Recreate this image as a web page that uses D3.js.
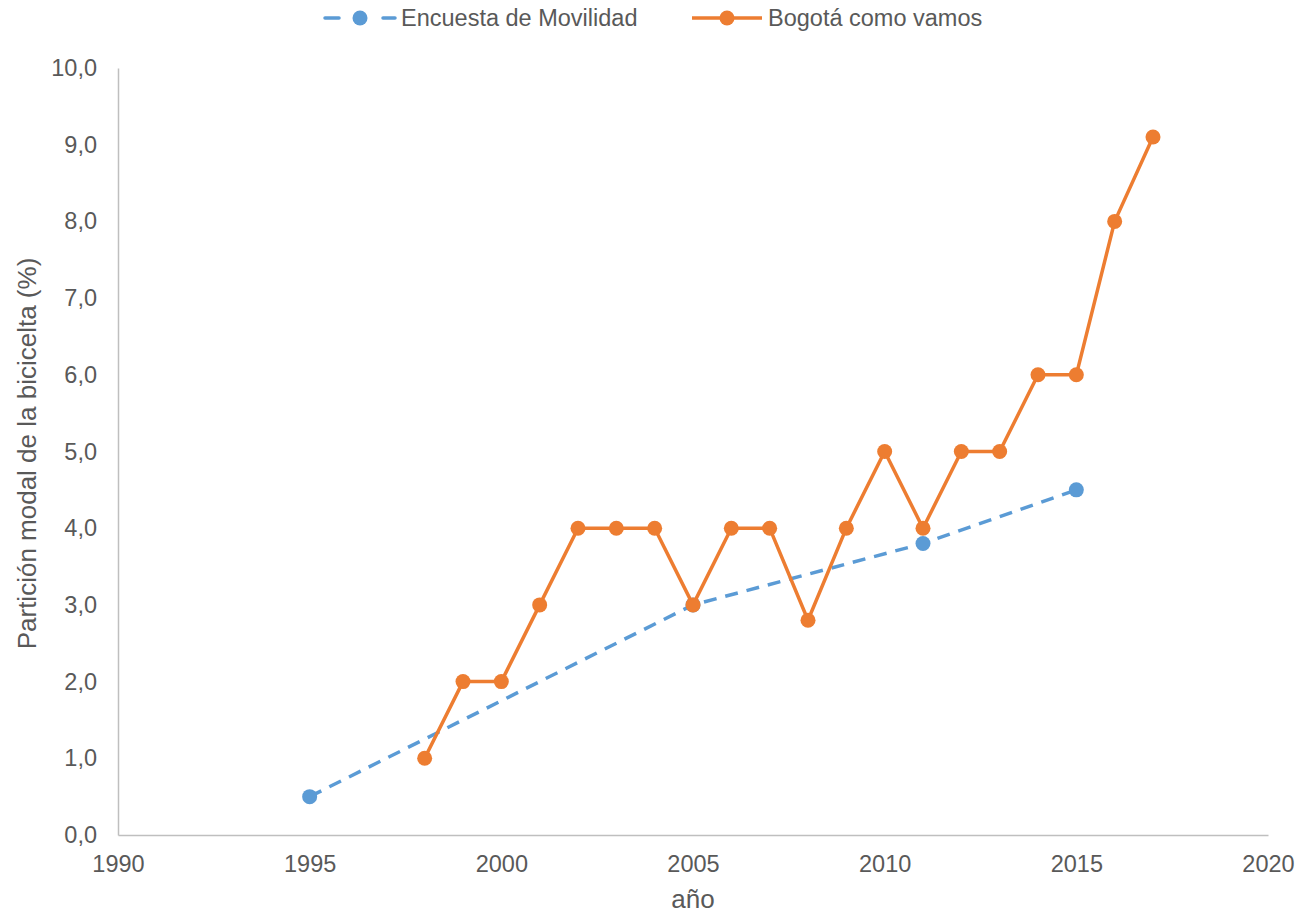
<!DOCTYPE html>
<html>
<head>
<meta charset="utf-8">
<script src="https://cdn.jsdelivr.net/npm/d3@7"></script>
<style>
  body { margin: 0; background: #fff; }
  text { font-family: "Liberation Sans", Arial, sans-serif; fill: #595959; }
</style>
</head>
<body>
<div id="chart"></div>
<script>
// series data
var encuestaYears = [1995, 2005, 2011, 2015];
var encuestaValues = [0.5, 3.0, 3.8, 4.5];

var bcvYears = [1998, 1999, 2000, 2001, 2002, 2003, 2004, 2005, 2006, 2007,
  2008, 2009, 2010, 2011, 2012, 2013, 2014, 2015, 2016, 2017];
var bcvValues = [1.0, 2.0, 2.0, 3.0, 4.0, 4.0, 4.0, 3.0, 4.0, 4.0,
  2.8, 4.0, 5.0, 4.0, 5.0, 5.0, 6.0, 6.0, 8.0, 9.1];

var xTicks = [1990, 1995, 2000, 2005, 2010, 2015, 2020];
var yTicks = [0, 1, 2, 3, 4, 5, 6, 7, 8, 9, 10];

var blue = "#5b9bd5", orange = "#ed7d31";

var margin = { top: 68, right: 28, bottom: 80, left: 118 };
var width = 1296 - margin.left - margin.right,
  height = 915 - margin.top - margin.bottom;

var svg = d3.select("#chart").append("svg")
  .attr("width", 1296)
  .attr("height", 915);

var g = svg.append("g")
  .attr("transform", "translate(" + margin.left + "," + margin.top + ")");

var x = d3.scaleLinear().domain([1990, 2020]).range([0, width]);
var y = d3.scaleLinear().domain([0, 10]).range([height, 0]);

var fmt = function(d) { return d3.format(".1f")(d).replace(".", ","); };

// axes
var xAxis = g.append("g")
  .attr("transform", "translate(0," + height + ")")
  .call(d3.axisBottom(x).tickValues(xTicks).tickFormat(d3.format("d")).tickSize(0).tickPadding(20));
var yAxis = g.append("g")
  .call(d3.axisLeft(y).tickValues(yTicks).tickFormat(fmt).tickSize(0).tickPadding(21));

[xAxis, yAxis].forEach(function(a) {
  a.select(".domain").attr("stroke", "#bfbfbf").attr("stroke-width", 1.5);
  a.selectAll("text").style("font-size", "23.5px").attr("fill", "#595959");
});

// axis titles
svg.append("text")
  .attr("x", margin.left + width / 2)
  .attr("y", 908)
  .attr("text-anchor", "middle")
  .style("font-size", "26px")
  .text("año");

svg.append("text")
  .attr("transform", "translate(36," + (margin.top + height / 2 + 2) + ") rotate(-90)")
  .attr("text-anchor", "middle")
  .style("font-size", "26px")
  .text("Partición modal de la bicicelta (%)");

var line = d3.line()
  .x(function(d) { return x(d[0]); })
  .y(function(d) { return y(d[1]); });

var encuesta = encuestaYears.map(function(yr, i) { return [yr, encuestaValues[i]]; });
var bcv = bcvYears.map(function(yr, i) { return [yr, bcvValues[i]]; });

g.append("path")
  .datum(encuesta)
  .attr("d", line)
  .attr("fill", "none")
  .attr("stroke", blue)
  .attr("stroke-width", 3.5)
  .attr("stroke-dasharray", "13,9");

g.selectAll(".dot-enc")
  .data(encuesta)
  .enter().append("circle")
  .attr("cx", function(d) { return x(d[0]); })
  .attr("cy", function(d) { return y(d[1]); })
  .attr("r", 7.5)
  .attr("fill", blue);

g.append("path")
  .datum(bcv)
  .attr("d", line)
  .attr("fill", "none")
  .attr("stroke", orange)
  .attr("stroke-width", 3.5)
  .attr("stroke-linejoin", "round");

g.selectAll(".dot-bcv")
  .data(bcv)
  .enter().append("circle")
  .attr("cx", function(d) { return x(d[0]); })
  .attr("cy", function(d) { return y(d[1]); })
  .attr("r", 7.5)
  .attr("fill", orange);

// legend
var legend = svg.append("g");
var items = [
  { name: "Encuesta de Movilidad", color: blue, dash: "14,44,12", x0: 325 },
  { name: "Bogotá como vamos", color: orange, dash: null, x0: 692 }
];
items.forEach(function(it) {
  legend.append("line")
    .attr("x1", it.x0).attr("x2", it.x0 + 70)
    .attr("y1", 18).attr("y2", 18)
    .attr("stroke", it.color)
    .attr("stroke-width", 3.5)
    .attr("stroke-linecap", it.dash ? "round" : null)
    .attr("stroke-dasharray", it.dash);
  legend.append("circle")
    .attr("cx", it.x0 + 35).attr("cy", 18).attr("r", 7.5)
    .attr("fill", it.color);
  legend.append("text")
    .attr("x", it.x0 + 76).attr("y", 26)
    .style("font-size", "23.5px")
    .text(it.name);
});
</script>
</body>
</html>
